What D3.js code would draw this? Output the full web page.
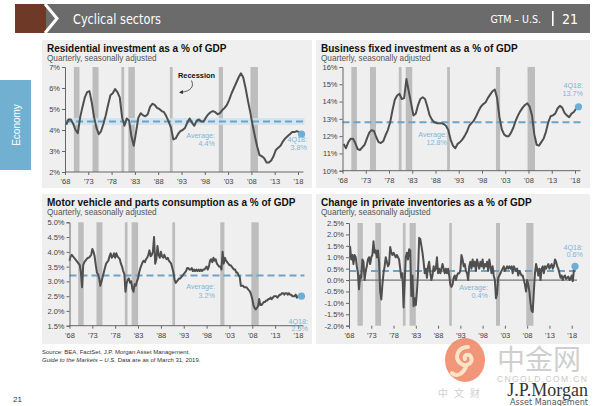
<!DOCTYPE html>
<html><head><meta charset="utf-8">
<script src="https://cdn.jsdelivr.net/npm/d3@7"></script>
<style>
body{margin:0;background:#fff}
svg{display:block;font-family:"Liberation Sans",Arial,sans-serif}
</style>
</head><body>
<svg id="c" width="600" height="406"></svg>
<script>
// ---------- DATA ----------
const tickYears = [1968,1973,1978,1983,1988,1993,1998,2003,2008,2013,2018];
const tickYearLabels = ["'68","'73","'78","'83","'88","'93","'98","'03","'08","'13","'18"];
const recessions = [[1969.9,1971.1],[1973.9,1975.2],[1980.1,1980.7],[1981.6,1983.0],[1990.5,1991.1],[2001.0,2001.9],[2007.8,2009.4]];

// semi-annual, 1968H1 .. 2018H2
const residentialValues = [
4.25,4.50, 4.50,4.30, 4.00,3.85, 4.60,5.10, 5.55,5.80,
5.85,5.30, 4.60,4.10, 3.80,3.95, 4.30,4.70, 5.20,5.65,
5.75,5.95, 5.80,5.55, 4.60,4.20, 4.55,4.45, 3.70,3.25,
3.90,4.60, 4.80,4.70, 4.65,4.75, 5.10,5.25, 5.20,5.05,
5.00,4.90, 4.85,4.65, 4.40,4.10, 3.55,3.60, 3.80,3.95,
4.00,4.10, 4.35,4.55, 4.35,4.20, 4.45,4.50, 4.40,4.40,
4.60,4.75, 4.85,4.90, 4.85,4.75, 4.80,4.95, 5.05,5.20,
5.45,5.75, 6.00,6.25, 6.50,6.70, 6.50,6.00, 5.40,4.85,
4.25,3.70, 3.20,2.80, 2.75,2.65, 2.45,2.45, 2.55,2.75,
3.05,3.15, 3.25,3.45, 3.60,3.70, 3.80,3.90, 3.90,3.95,
3.90,3.80];

const businessValues = [
11.55,11.30, 11.65,11.85, 11.85,11.60, 11.25,11.20, 11.35,11.50,
11.85,12.20, 12.35,12.30, 11.95,11.65, 11.60,11.70, 12.05,12.35,
12.80,13.50, 14.10,14.35, 14.45,14.15, 14.20,15.30, 14.60,13.90,
13.20,13.30, 13.80,14.15, 14.25,14.15, 13.70,13.20, 12.95,12.80,
12.75,12.75, 12.75,12.70, 12.60,12.35, 11.80,11.45, 11.30,11.55,
11.65,11.80, 12.00,12.25, 12.60,12.75, 12.90,13.15, 13.45,13.70,
13.85,13.95, 14.20,14.40, 14.60,14.70, 14.20,13.10, 12.40,12.10,
12.00,12.00, 12.20,12.50, 12.90,13.20, 13.45,13.65, 13.80,13.90,
13.70,13.20, 12.10,11.50, 11.45,11.65, 11.85,12.25, 12.80,13.15,
13.20,13.30, 13.60,13.75, 13.65,13.35, 13.20,13.10, 13.30,13.40,
13.60,13.70];

// quarterly, 1968Q1 .. 2018Q4
const motorValues = [
3.70,3.85,3.90,3.85, 3.80,3.75,3.70,3.65, 3.60,3.55,3.30,2.80, 3.55,3.65,3.70,3.75,
3.80,3.80,3.85,3.90, 4.10,4.00,3.85,3.55, 3.30,3.25,3.10,2.85, 3.00,3.15,3.30,3.45,
3.60,3.65,3.70,3.85, 3.95,3.80,3.85,3.95, 3.80,3.95,3.85,3.80, 3.75,3.60,3.50,3.35,
3.25,2.65,2.95,3.05, 3.10,2.95,3.00,2.75, 2.65,2.90,2.85,3.00, 3.10,3.30,3.45,3.55,
3.65,3.70,3.65,3.75, 3.80,3.90,4.05,3.85, 3.90,4.00,4.50,3.60, 3.75,4.20,3.90,3.80,
4.00,3.85,3.80,3.90, 3.80,3.75,3.80,3.70, 3.65,3.60,3.45,3.30, 3.05,2.95,3.00,3.05,
3.10,3.10,3.15,3.20, 3.25,3.30,3.35,3.45, 3.45,3.40,3.40,3.45, 3.35,3.40,3.35,3.40,
3.35,3.40,3.35,3.40, 3.35,3.40,3.40,3.45, 3.50,3.40,3.50,3.70, 3.75,3.65,3.80,3.70,
3.75,3.60,3.55,3.50, 3.50,3.40,4.00,3.60, 3.80,3.70,3.65,3.60, 3.55,3.55,3.50,3.45,
3.40,3.40,3.30,3.30, 3.20,3.15,2.85,2.85, 2.85,2.80,2.80,2.80, 2.75,2.70,2.65,2.55,
2.40,2.20,2.10,2.05, 2.10,2.15,2.40,2.20, 2.20,2.25,2.30,2.30, 2.35,2.35,2.40,2.40,
2.45,2.40,2.45,2.50, 2.50,2.50,2.45,2.50, 2.55,2.55,2.60,2.60, 2.55,2.60,2.60,2.55,
2.60,2.55,2.55,2.50, 2.50,2.50,2.55,2.45, 2.50,2.50,2.45,2.50];

const inventoryValues = [
1.50,1.45,0.90,1.10, 0.70,1.10,1.00,0.60, 0.30,-0.40,0.20,0.10, 0.90,0.80,0.00,0.40,
0.60,0.90,1.00,0.70, 1.00,1.10,1.70,1.20, 1.30,1.00,1.30,0.80, -0.50,-0.85,-0.20,0.30,
0.60,1.00,0.80,0.60, 0.70,1.45,1.20,1.10, 1.20,1.10,1.00,1.10, 1.00,0.90,0.50,0.10,
0.30,-1.20,-0.10,1.00, 1.20,0.90,1.35,1.30, -0.70,0.20,-1.15,-0.80, -1.10,-0.50,0.30,1.85,
1.80,1.50,1.20,0.80, 0.30,0.50,0.10,0.60, 0.80,0.30,0.00,0.20, 0.60,0.40,0.50,1.00,
0.30,0.50,0.30,0.50, 0.70,0.50,0.30,0.50, 0.30,0.50,0.20,-0.20, -0.30,-0.20,0.10,0.20,
0.00,0.20,0.30,0.30, 0.40,1.10,0.90,0.60, 0.70,0.40,0.30,0.00, 0.60,0.80,0.50,0.90,
0.60,0.80,0.40,0.90, 0.70,0.50,0.80,0.60, 0.90,0.50,0.70,0.60, 0.80,0.40,0.90,0.60,
0.30,0.60,0.20,0.00, -0.80,-0.60,0.10,0.20, 0.30,0.40,0.50,0.60, 0.40,0.50,0.60,0.50,
0.60,0.50,0.60,0.30, 0.60,0.50,0.40,0.50, 0.20,0.40,0.30,0.20, 0.20,0.00,-0.20,-0.50,
0.00,-0.20,-0.50,-1.00, -1.35,-1.40,-0.50,0.30, 0.70,0.50,0.20,0.50, 0.00,0.50,0.60,0.30,
0.60,0.50,0.60,0.70, 0.50,0.60,0.70,0.50, 0.60,0.90,0.80,0.60, 0.50,0.30,0.10,0.20,
0.00,0.15,0.20,0.05, 0.10,0.15,0.00,0.05, 0.20,-0.05,0.45,0.60];

const residentialTicks = [2,3,4,5,6,7];
const businessTicks = [10,11,12,13,14,15,16];
const motorTicks = [1.5,2.0,2.5,3.0,3.5,4.0,4.5,5.0];
const inventoryTicks = [-2.0,-1.5,-1.0,-0.5,0.0,0.5,1.0,1.5,2.0,2.5];

const averages = [4.4, 12.8, 3.2, 0.4];
const averageLabels = ["4.4%","12.8%","3.2%","0.4%"];
const latestLabels = ["3.8%","13.7%","2.5%","0.6%"];
const titles = ["Residential investment as a % of GDP","Business fixed investment as a % of GDP",
  "Motor vehicle and parts consumption as a % of GDP","Change in private inventories as a % of GDP"];

// ---------- DRAW ----------
const svg = d3.select("#c");
const BLUE_TXT = "#7fb5d5", BLUE_LINE = "#6aa5c8", BLUE_DOT = "#6cafd6";

// header
svg.append("rect").attr("x",15).attr("y",4).attr("width",31).attr("height",29).attr("fill","#6e3a27");
svg.append("rect").attr("x",46).attr("y",4).attr("width",544).attr("height",29).attr("fill","#6b6b6b");
svg.append("path").attr("d","M45,4 L57,18.5 L45,33").attr("fill","none").attr("stroke","#fff").attr("stroke-width",3);
svg.append("text").attr("x",73).attr("y",23.5).attr("fill","#fff")
  .style("font-family","'Liberation Sans Narrow','DejaVu Sans Condensed',Arial").style("font-size","14px")
  .attr("textLength",88).attr("lengthAdjust","spacingAndGlyphs").text("Cyclical sectors");
svg.append("text").attr("x",541).attr("y",23).attr("text-anchor","end").attr("fill","#fff")
  .style("font-family","'Liberation Sans Narrow','DejaVu Sans Condensed',Arial").style("font-size","10.5px").text("GTM – U.S.");
svg.append("rect").attr("x",552).attr("y",11).attr("width",1.6).attr("height",15).attr("fill","#fff");
svg.append("text").attr("x",562).attr("y",23.5).attr("fill","#fff")
  .style("font-family","'Liberation Sans Narrow','DejaVu Sans Condensed',Arial").style("font-size","14px").text("21");

// side tab
svg.append("rect").attr("x",0).attr("y",80).attr("width",31).attr("height",90).attr("fill","#72b0d1");
svg.append("text").attr("transform","translate(19.5,125) rotate(-90)").attr("text-anchor","middle")
  .attr("fill","#fff").style("font-size","10px").text("Economy");

const panels = [
  {px:42,py:40,pw:270,ph:148, x0:65,x1:298, ymin:2,ymax:7, yb:172,yt:67, yfmt:d=>d+"%", ticks:residentialTicks,
   data:residentialValues, step:0.5, start:1968.25,
   avgLab:{x:215,y:137.5}, lastLab:{x:307,y:142}, halo:true},
  {px:316,py:40,pw:274,ph:148, x0:342.5,x1:575, ymin:10,ymax:16, yb:170.7,yt:67, yfmt:d=>d+"%", ticks:businessTicks,
   data:businessValues, step:0.5, start:1968.25,
   avgLab:{x:447,y:136.5}, lastLab:{x:583,y:88}},
  {px:42,py:194,pw:270,ph:150, x0:69.5,x1:298, ymin:1.5,ymax:5.0, yb:325.7,yt:222.3, yfmt:d=>d.toFixed(1)+"%", ticks:motorTicks,
   data:motorValues, step:0.25, start:1968,
   avgLab:{x:215,y:289}, lastLab:{x:308,y:323.5}},
  {px:316,py:194,pw:274,ph:150, x0:349,x1:571.7, ymin:-2.0,ymax:2.5, yb:325.7,yt:223, yfmt:d=>d.toFixed(1)+"%", ticks:inventoryTicks,
   data:inventoryValues, step:0.25, start:1968,
   avgLab:{x:488,y:289.5}, lastLab:{x:583,y:249.5}, zero:true, noXLine:true}
];

panels.forEach((p,i)=>{
  const g = svg.append("g");
  g.append("rect").attr("x",p.px).attr("y",p.py).attr("width",p.pw).attr("height",p.ph).attr("fill","#efefef");
  g.append("text").attr("x",p.px+5).attr("y",p.py+11.7).attr("fill","#111").style("font-weight","bold")
    .style("font-size","10px").text(titles[i]);
  g.append("text").attr("x",p.px+5).attr("y",p.py+20.8).attr("fill","#555").style("font-size","8.2px")
    .text("Quarterly, seasonally adjusted");

  const x = d3.scaleLinear().domain([1968,2018]).range([p.x0,p.x1]);
  const y = d3.scaleLinear().domain([p.ymin,p.ymax]).range([p.yb,p.yt]);
  const pts = p.data.map((v,k)=>({t:p.start+k*p.step, v}));
  const last = pts[pts.length-1];

  // recession bands
  g.selectAll(".band").data(recessions).join("rect")
    .attr("x",d=>x(d[0])).attr("width",d=>x(d[1])-x(d[0]))
    .attr("y",p.yt).attr("height",p.yb-p.yt).attr("fill","#bdbdbd");

  if (p.zero) {
    g.append("line").attr("x1",p.x0).attr("x2",x(last.t)+2).attr("y1",y(0)).attr("y2",y(0))
      .attr("stroke","#777").attr("stroke-width",1.2);
  }
  // average
  if (p.halo) {
    g.append("line").attr("x1",p.x0).attr("x2",x(last.t)+3).attr("y1",y(averages[i])).attr("y2",y(averages[i]))
      .attr("stroke","#cfe2ee").attr("stroke-width",7).attr("opacity",0.8);
  }
  g.append("line").attr("x1",p.x0).attr("x2",x(last.t)+3).attr("y1",y(averages[i])).attr("y2",y(averages[i]))
    .attr("stroke",BLUE_LINE).attr("stroke-width",2).attr("stroke-dasharray","7,4");

  // series line
  g.append("path").datum(pts)
    .attr("d",d3.line().x(d=>x(d.t)).y(d=>y(d.v)))
    .attr("fill","none").attr("stroke","#4f4f4f").attr("stroke-width",2).attr("stroke-linejoin","round");

  // dot
  g.append("circle").attr("cx",x(last.t)).attr("cy",y(last.v)).attr("r",3.6).attr("fill",BLUE_DOT);

  // axes
  const ya = g.append("g").attr("transform",`translate(${p.x0},0)`)
    .call(d3.axisLeft(y).tickValues(p.ticks).tickFormat(p.yfmt).tickSize(3).tickPadding(2));
  const xa = g.append("g").attr("transform",`translate(0,${p.yb})`)
    .call(d3.axisBottom(x).tickValues(tickYears).tickFormat((d,k)=>tickYearLabels[k]).tickSize(3).tickPadding(4));
  xa.select(".domain").remove();
  if (!p.noXLine) {
    g.append("line").attr("x1",p.x0).attr("x2",x(last.t)+2).attr("y1",p.yb).attr("y2",p.yb)
      .attr("stroke","#666").attr("stroke-width",1);
  }
  [ya,xa].forEach(a=>{
    a.selectAll(".domain").attr("stroke","#666");
    a.selectAll(".tick line").attr("stroke","#666");
    a.selectAll("text").attr("fill","#444").style("font-size","7.5px").style("font-family","'Liberation Sans',Arial");
  });

  // labels
  const al = g.append("text").attr("text-anchor","end").attr("fill",BLUE_TXT).style("font-size","7.2px");
  al.append("tspan").attr("x",p.avgLab.x).attr("y",p.avgLab.y).text("Average:");
  al.append("tspan").attr("x",p.avgLab.x).attr("y",p.avgLab.y+8.5).text(averageLabels[i]);
  const ll = g.append("text").attr("text-anchor","end").attr("fill",BLUE_TXT).style("font-size","7.2px");
  ll.append("tspan").attr("x",p.lastLab.x).attr("y",p.lastLab.y).text("4Q18:");
  ll.append("tspan").attr("x",p.lastLab.x).attr("y",p.lastLab.y+7.8).text(latestLabels[i]);
});

// recession annotation
svg.append("text").attr("x",178).attr("y",77.5).attr("fill","#111").style("font-weight","bold")
  .style("font-size","7.4px").text("Recession");
svg.append("defs").append("marker").attr("id","ah").attr("viewBox","0 0 10 10").attr("refX",5).attr("refY",5)
  .attr("markerWidth",5).attr("markerHeight",5).attr("orient","auto")
  .append("path").attr("d","M0,0 L10,5 L0,10 z").attr("fill","#333");
svg.append("path").attr("d","M191.5,80.5 C194,86 192,91 181,92.3").attr("fill","none")
  .attr("stroke","#333").attr("stroke-width",0.8).attr("marker-end","url(#ah)");

// footer
svg.append("text").attr("x",42).attr("y",354).attr("fill","#333").style("font-size","6px")
  .text("Source: BEA, FactSet, J.P. Morgan Asset Management.");
const f2 = svg.append("text").attr("x",42).attr("y",361.5).attr("fill","#333").style("font-size","6px");
f2.append("tspan").style("font-style","italic").text("Guide to the Markets – U.S.");
f2.append("tspan").text(" Data are as of March 31, 2019.");
svg.append("text").attr("x",13).attr("y",402).attr("fill","#333").style("font-size","8px").text("21");

// watermark
svg.append("ellipse").attr("cx",465).attr("cy",360).attr("rx",20).attr("ry",22).attr("fill","#ee8460").attr("opacity",0.85);
svg.append("path").attr("d","M468,347 C458,347 454,357 460,363 C466,368 474,363 471,357 C469,353 463,355 465,359 M466,367 C462,375 456,377 452,373")
  .attr("fill","none").attr("stroke","#fbe3c8").attr("stroke-width",4).attr("stroke-linecap","round");
svg.append("text").attr("x",497).attr("y",370).attr("fill","#cfcfcf")
  .style("font-family","'Noto Sans CJK SC'").style("font-size","28px").text("中金网");
svg.append("text").attr("x",497).attr("y",381.5).attr("fill","#c9c9c9").style("font-size","8.5px")
  .attr("textLength",90).text("CNGOLD.COM.CN");
svg.append("text").attr("x",438).attr("y",397).attr("fill","#cfcfcf")
  .style("font-family","'Noto Sans CJK SC'").style("font-size","10px").attr("letter-spacing","6px").text("中文财");

// logo
svg.append("text").attr("x",588).attr("y",396).attr("text-anchor","end").attr("fill","#333")
  .style("font-family","'Liberation Serif','DejaVu Serif',serif").style("font-size","18px").text("J.P.Morgan");
svg.append("text").attr("x",588).attr("y",404.5).attr("text-anchor","end").attr("fill","#555")
  .style("font-family","'Liberation Sans Narrow','DejaVu Sans Condensed',Arial").style("font-size","9px").text("Asset Management");
</script>
</body></html>
